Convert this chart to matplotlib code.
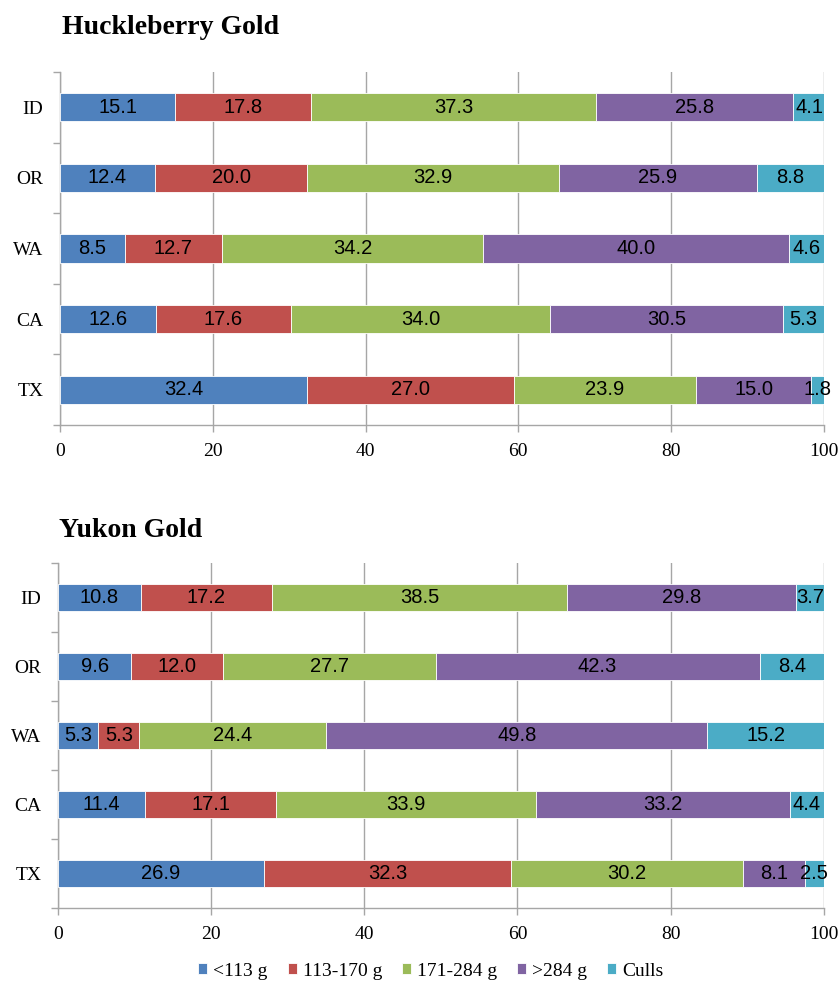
import matplotlib
matplotlib.use("Agg")
import matplotlib.pyplot as plt
import numpy as np

states = ["ID", "OR", "WA", "CA", "TX"]
size_classes = ["<113 g", "113-170 g", "171-284 g", ">284 g", "Culls"]
colors = ["#4F81BD", "#C0504D", "#9BBB59", "#8064A2", "#4BACC6"]

huckleberry_lt113 = [15.1, 12.4, 8.5, 12.6, 32.4]
huckleberry_113_170 = [17.8, 20.0, 12.7, 17.6, 27.0]
huckleberry_171_284 = [37.3, 32.9, 34.2, 34.0, 23.9]
huckleberry_gt284 = [25.8, 25.9, 40.0, 30.5, 15.0]
huckleberry_culls = [4.1, 8.8, 4.6, 5.3, 1.8]

yukon_lt113 = [10.8, 9.6, 5.3, 11.4, 26.9]
yukon_113_170 = [17.2, 12.0, 5.3, 17.1, 32.3]
yukon_171_284 = [38.5, 27.7, 24.4, 33.9, 30.2]
yukon_gt284 = [29.8, 42.3, 49.8, 33.2, 8.1]
yukon_culls = [3.7, 8.4, 15.2, 4.4, 2.5]

x_ticks = [0, 20, 40, 60, 80, 100]

serif = ["Liberation Serif", "DejaVu Serif"]
sans = ["Liberation Sans", "DejaVu Sans"]
grid_c = "#A6A6A6"

fig = plt.figure(figsize=(8.39, 9.82), dpi=100)


def draw(ax, series, title, title_x, title_y):
    y = np.arange(len(states))
    left = np.zeros(len(states))
    handles = []
    for vals, col, name in zip(series, colors, size_classes):
        vals = np.array(vals)
        b = ax.barh(y, vals, left=left, height=0.4, color=col, label=name,
                    edgecolor="white", linewidth=0.6, zorder=3)
        handles.append(b)
        for yi, (l, v) in enumerate(zip(left, vals)):
            ax.text(l + v / 2, yi, f"{v:.1f}", ha="center", va="center",
                    fontsize=14.5, family=sans, color="black", zorder=4)
        left = left + vals
    ax.set_xlim(0, 100)
    ax.set_ylim(len(states) - 0.5, -0.5)
    ax.set_xticks(x_ticks)
    ax.set_xticklabels([str(t) for t in x_ticks], family=serif, fontsize=14)
    ax.set_yticks(y)
    ax.set_yticklabels(states, family=serif, fontsize=14)
    ax.set_yticks(np.arange(-0.5, len(states), 1), minor=True)
    ax.tick_params(axis="y", which="major", length=0, pad=12)
    ax.tick_params(axis="y", which="minor", length=5, color=grid_c, width=1)
    ax.tick_params(axis="x", length=5, color=grid_c, width=1, pad=8)
    ax.grid(axis="x", color=grid_c, linewidth=1, zorder=0)
    for s in ["top", "right"]:
        ax.spines[s].set_visible(False)
    for s in ["left", "bottom"]:
        ax.spines[s].set_color(grid_c)
        ax.spines[s].set_linewidth(1)
    ax.set_axisbelow(True)
    fig.text(title_x, title_y, title, family=serif, fontsize=20,
             fontweight="bold", ha="left", va="baseline")
    return handles


ax1 = fig.add_axes([0.0715, 0.5672, 0.9105, 0.3595])
draw(ax1, [huckleberry_lt113, huckleberry_113_170, huckleberry_171_284,
           huckleberry_gt284, huckleberry_culls], "Huckleberry Gold",
     62 / 839, 1 - 34 / 982)
ax2 = fig.add_axes([0.069, 0.0754, 0.913, 0.3513])
handles = draw(ax2, [yukon_lt113, yukon_113_170, yukon_171_284,
                     yukon_gt284, yukon_culls], "Yukon Gold",
               59 / 839, 1 - 537 / 982)

fig.legend(handles, size_classes, loc="center", bbox_to_anchor=(431 / 839, 1 - 971 / 982),
           ncol=5, frameon=False, prop={"family": serif, "size": 14},
           handlelength=0.46, handleheight=0.46, handletextpad=0.31,
           columnspacing=1.03, borderpad=0, borderaxespad=0)

fig.savefig("out.png", dpi=100)
